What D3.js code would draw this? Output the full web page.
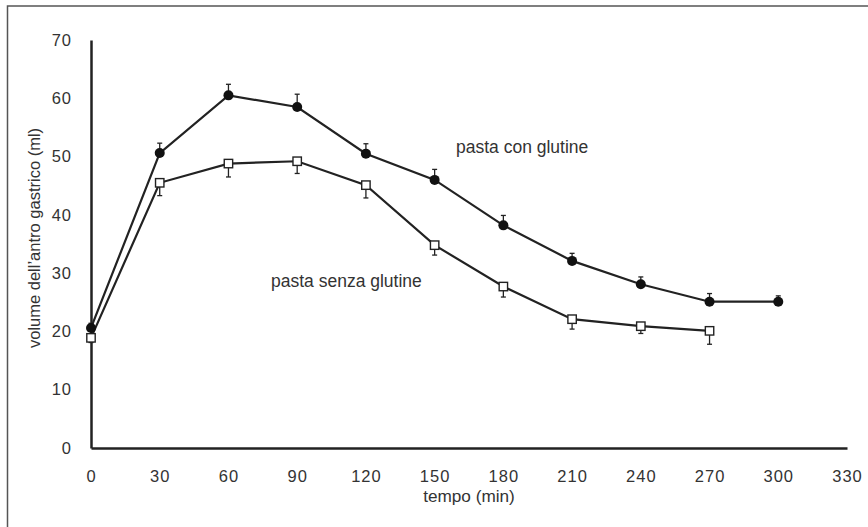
<!DOCTYPE html>
<html><head><meta charset="utf-8">
<script src="https://cdn.jsdelivr.net/npm/d3@7"></script>
<style>body{margin:0;background:#fff}svg{display:block}</style>
</head><body>
<script>
const times = [0,30,60,90,120,150,180,210,240,270,300];
const conGlutine = [20.6,50.6,60.5,58.5,50.5,46.0,38.2,32.1,28.1,25.1,25.1];
const conGlutineErr = [0.8,1.7,1.9,2.2,1.7,1.8,1.7,1.3,1.25,1.4,1.0];
const senzaTimes = [0,30,60,90,120,150,180,210,240,270];
const senzaGlutine = [18.9,45.5,48.8,49.2,45.1,34.8,27.7,22.1,20.9,20.1];
const senzaGlutineErr = [0.8,2.2,2.3,2.1,2.2,1.7,1.8,1.7,1.25,2.3];
const xTicks = [0,30,60,90,120,150,180,210,240,270,300,330];
const yTicks = [0,10,20,30,40,50,60,70];

const W=868,H=527;
const svg=d3.select("body").append("svg").attr("width",W).attr("height",H);
svg.append("rect").attr("x",7.5).attr("y",6).attr("width",W+20).attr("height",H+20)
  .attr("fill","none").attr("stroke","#555").attr("stroke-width",1.5);

const x=d3.scaleLinear().domain([0,330]).range([91,847]);
const y=d3.scaleLinear().domain([0,70]).range([448,40]);
const ink="#222";
const font="'Liberation Sans', Arial, sans-serif";

// axes
const xAxis=d3.axisBottom(x).tickValues(xTicks).tickSize(0).tickPadding(22);
const gx=svg.append("g").attr("transform","translate(0,448)").call(xAxis);
gx.select(".domain").attr("stroke",ink).attr("stroke-width",2.5);
gx.selectAll("text").attr("font-family",font).attr("font-size",16.5).attr("fill","#333").attr("letter-spacing","1px");

const yAxis=d3.axisLeft(y).tickValues(yTicks).tickSize(0).tickPadding(19);
const gy=svg.append("g").attr("transform","translate(91,0)").call(yAxis);
gy.select(".domain").attr("stroke",ink).attr("stroke-width",2.5);
gy.selectAll("text").attr("font-family",font).attr("font-size",16.5).attr("fill","#333").attr("letter-spacing","1px");

svg.append("text").attr("x",469).attr("y",502).attr("text-anchor","middle")
  .attr("font-family",font).attr("font-size",17.2).attr("fill","#333")
  .text("tempo (min)");
svg.append("text").attr("transform","translate(40,238) rotate(-90)").attr("text-anchor","middle")
  .attr("font-family",font).attr("font-size",16.5).attr("fill","#333")
  .text("volume dell\u2019antro gastrico (ml)");

const line=d3.line().x(d=>x(d[0])).y(d=>y(d[1]));
const dCon=times.map((t,i)=>[t,conGlutine[i],conGlutineErr[i]]);
const dSenza=senzaTimes.map((t,i)=>[t,senzaGlutine[i],senzaGlutineErr[i]]);

// error bars
function errBars(data,dir){
  const g=svg.append("g").attr("stroke",ink).attr("stroke-width",1.3);
  data.forEach(d=>{
    const y0=y(d[1]), y1=y(d[1]+dir*d[2]);
    g.append("line").attr("x1",x(d[0])).attr("x2",x(d[0])).attr("y1",y0).attr("y2",y1);
    g.append("line").attr("x1",x(d[0])-2.5).attr("x2",x(d[0])+2.5).attr("y1",y1).attr("y2",y1);
  });
}
errBars(dCon,1);
errBars(dSenza,-1);

svg.append("path").datum(dCon).attr("d",line).attr("fill","none").attr("stroke",ink).attr("stroke-width",2.2);
svg.append("path").datum(dSenza).attr("d",line).attr("fill","none").attr("stroke",ink).attr("stroke-width",2.2);

svg.append("g").selectAll("circle").data(dCon).join("circle")
  .attr("cx",d=>x(d[0])).attr("cy",d=>y(d[1])).attr("r",5).attr("fill","#111");
svg.append("g").selectAll("rect").data(dSenza).join("rect")
  .attr("x",d=>x(d[0])-4.2).attr("y",d=>y(d[1])-4.2).attr("width",8.4).attr("height",8.4)
  .attr("fill","#fff").attr("stroke",ink).attr("stroke-width",1.4);

svg.append("text").attr("x",456).attr("y",152.5).attr("font-family",font)
  .attr("font-size",17.5).attr("fill","#333").text("pasta con glutine");
svg.append("text").attr("x",271).attr("y",287).attr("font-family",font)
  .attr("font-size",17.5).attr("fill","#333").text("pasta senza glutine");
</script>
</body></html>
